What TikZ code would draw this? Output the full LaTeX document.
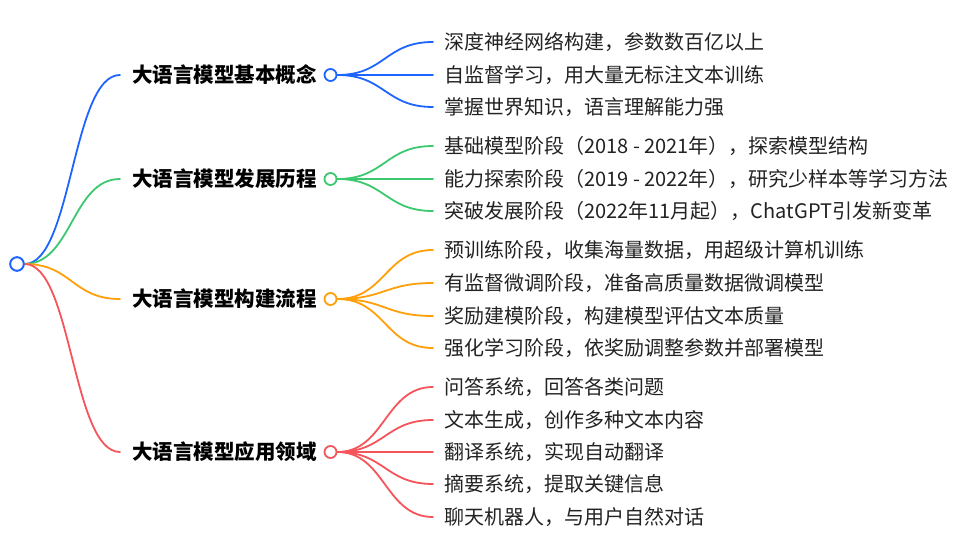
\documentclass[tikz,border=0pt]{standalone}
\usepackage{fontspec}
\setmainfont{Noto Sans CJK SC}
\definecolor{cblue}{RGB}{30,100,255}
\definecolor{cgreen}{RGB}{60,200,110}
\definecolor{corange}{RGB}{255,160,10}
\definecolor{cred}{RGB}{245,85,90}
\definecolor{ctext}{RGB}{34,34,34}
\tikzset{
  dot/.style={circle, draw, fill=white, line width=1.8pt, minimum size=12pt, inner sep=0pt},
  rootdot/.style={dot, minimum size=13.5pt},
  leaf/.style={anchor=base west, inner sep=0pt, text=ctext, font=\fontsize{20}{24}\selectfont},
  br/.style={anchor=base west, inner sep=0pt, text=black, font=\bfseries\fontsize{20.5}{24}\selectfont},
  link/.style={line width=1.8pt, line cap=round}
}
\begin{document}
\begin{tikzpicture}[x=1pt,y=-1pt]
\useasboundingbox (0,0) rectangle (969,553);
% root
\node[rootdot, draw=cblue] (r) at (17,264) {};
% branch circles
\node[dot, draw=cblue]   (c1) at (330.5,75) {};
\node[dot, draw=cgreen]  (c2) at (330.5,179) {};
\node[dot, draw=corange] (c3) at (330.5,299) {};
\node[dot, draw=cred]    (c4) at (330.5,452) {};
% branch line ends
\coordinate (e1) at (120,75);
\coordinate (e2) at (120,179);
\coordinate (e3) at (120,299);
\coordinate (e4) at (120,452);
% branch labels
\node[br] (b1) at (132,82.7) {大语言模型基本概念};
\node[br] (b2) at (132,186.7) {大语言模型发展历程};
\node[br] (b3) at (132,306.7) {大语言模型构建流程};
\node[br] (b4) at (132,459.7) {大语言模型应用领域};
% root connectors
\draw[link, cblue]   (r.east) .. controls (72,264) and (72,75) .. (e1);
\draw[link, cgreen]  (r.east) .. controls (72,264) and (72,179) .. (e2);
\draw[link, corange] (r.east) .. controls (72,264) and (72,299) .. (e3);
\draw[link, cred]    (r.east) .. controls (72,264) and (72,452) .. (e4);
\node[rootdot, draw=cblue] at (r) {};
% leaf line ends
\coordinate (f11) at (433,42);
\coordinate (f12) at (433,75);
\coordinate (f13) at (433,107);
\coordinate (f21) at (433,146);
\coordinate (f22) at (433,179);
\coordinate (f23) at (433,211);
\coordinate (f31) at (433,250);
\coordinate (f32) at (433,283);
\coordinate (f33) at (433,316);
\coordinate (f34) at (433,348);
\coordinate (f41) at (433,387);
\coordinate (f42) at (433,420);
\coordinate (f43) at (433,452);
\coordinate (f44) at (433,484);
\coordinate (f45) at (433,517);
% leaf connectors
\draw[link, cblue] (c1.east) .. controls (385,75) and (385,42) .. (f11);
\draw[link, cblue] (c1.east) -- (f12);
\draw[link, cblue] (c1.east) .. controls (385,75) and (385,107) .. (f13);
\draw[link, cgreen] (c2.east) .. controls (385,179) and (385,146) .. (f21);
\draw[link, cgreen] (c2.east) -- (f22);
\draw[link, cgreen] (c2.east) .. controls (385,179) and (385,211) .. (f23);
\draw[link, corange] (c3.east) .. controls (385,299) and (385,250) .. (f31);
\draw[link, corange] (c3.east) .. controls (385,299) and (385,283) .. (f32);
\draw[link, corange] (c3.east) .. controls (385,299) and (385,316) .. (f33);
\draw[link, corange] (c3.east) .. controls (385,299) and (385,348) .. (f34);
\draw[link, cred] (c4.east) .. controls (385,452) and (385,387) .. (f41);
\draw[link, cred] (c4.east) .. controls (385,452) and (385,420) .. (f42);
\draw[link, cred] (c4.east) -- (f43);
\draw[link, cred] (c4.east) .. controls (385,452) and (385,484) .. (f44);
\draw[link, cred] (c4.east) .. controls (385,452) and (385,517) .. (f45);
% leaf labels
\node[leaf] (l11) at (444,49.5) {深度神经网络构建，参数数百亿以上};
\node[leaf] (l12) at (444,82.5) {自监督学习，用大量无标注文本训练};
\node[leaf] (l13) at (444,114.5) {掌握世界知识，语言理解能力强};
\node[leaf] (l21) at (444,153.5) {基础模型阶段（2018 - 2021年），探索模型结构};
\node[leaf] (l22) at (444,186.5) {能力探索阶段（2019 - 2022年），研究少样本等学习方法};
\node[leaf] (l23) at (444,218.5) {突破发展阶段（2022年11月起），ChatGPT引发新变革};
\node[leaf] (l31) at (444,257.5) {预训练阶段，收集海量数据，用超级计算机训练};
\node[leaf] (l32) at (444,290.5) {有监督微调阶段，准备高质量数据微调模型};
\node[leaf] (l33) at (444,323.5) {奖励建模阶段，构建模型评估文本质量};
\node[leaf] (l34) at (444,355.5) {强化学习阶段，依奖励调整参数并部署模型};
\node[leaf] (l41) at (444,394.5) {问答系统，回答各类问题};
\node[leaf] (l42) at (444,427.5) {文本生成，创作多种文本内容};
\node[leaf] (l43) at (444,459.5) {翻译系统，实现自动翻译};
\node[leaf] (l44) at (444,491.5) {摘要系统，提取关键信息};
\node[leaf] (l45) at (444,524.5) {聊天机器人，与用户自然对话};
\end{tikzpicture}
\end{document}
